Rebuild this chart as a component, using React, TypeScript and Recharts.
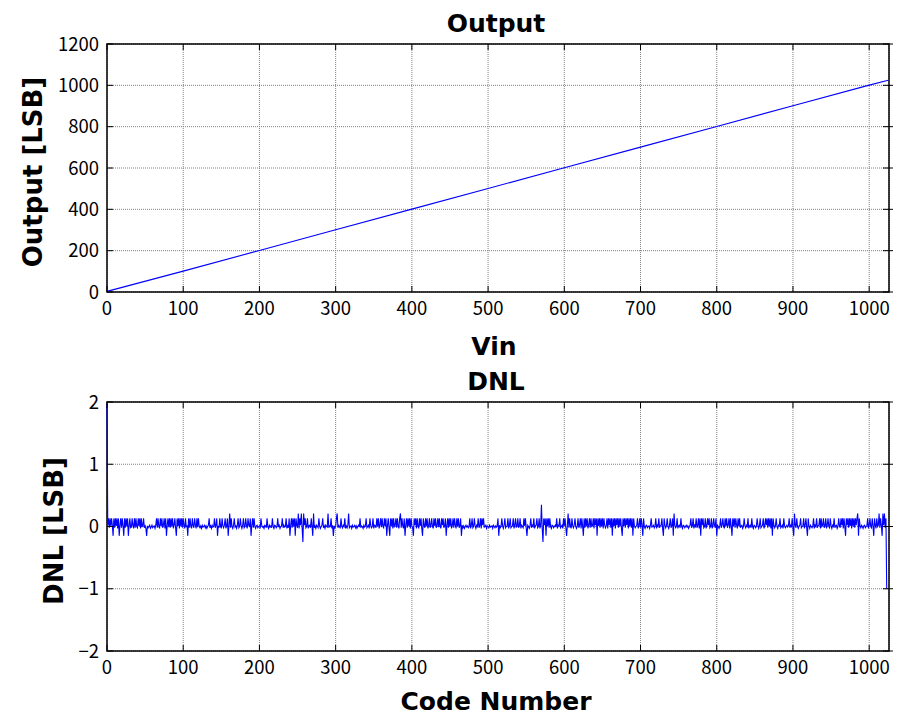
import { LineChart, Line, XAxis, YAxis, CartesianGrid, ReferenceArea } from 'recharts';

// Output vs Vin (ideal-ish staircase, reads as a straight line)
const vinPoints = [0, 100, 200, 300, 400, 500, 600, 700, 800, 900, 1000, 1025];
const outputLsb = [3, 101, 201, 301, 401, 501, 601, 701, 801, 901, 1001, 1025];

// DNL per code in blocks of 128 codes
const dnl0 = [
  1.97, .02, .13, -.02, .13, 0, .13, .02, -.15, .13, -.02, .13, .01, .13, -.03, .13,
  -.15, .02, .13, -.02, .13, .01, -.15, .13, -.02, .13, 0, .13, -.15, .02, .13, -.02,
  -.01, .13, .01, -.03, .13, -.02, .13, 0, -.02, .13, .01, .13, -.03, .13, -.01, .02,
  .13, -.02, .01, -.03, -.15, .01, -.02, 0, .02, -.03, -.01, .02, -.02, 0, .01, -.03,
  .02, .13, -.02, .13, 0, -.03, .13, .01, .13, -.02, .02, .13, -.03, .13, -.15, .02,
  .13, -.01, .13, -.02, .13, 0, .13, -.03, .02, .13, -.02, -.15, .13, .01, .13, -.03,
  .13, 0, .13, -.02, .13, .01, -.03, .13, -.01, .02, -.15, .13, -.02, .13, 0, -.03,
  .13, .01, -.02, .13, .02, -.03, .13, -.01, .13, 0, -.02, .01, -.03, .02, -.01, 0,
];
const dnl128 = [
  .02, -.02, .01, -.03, 0, .02, .13, -.02, .01, -.03, .02, -.01, 0, .13, -.02, .02,
  .13, -.15, .01, -.02, .13, 0, -.03, .13, .01, -.02, .02, .13, -.03, .01, .13, -.15,
  .02, .21, -.02, .13, 0, -.03, .02, .13, -.01, .01, -.03, .02, .13, -.02, 0, .13,
  .01, -.03, .02, .13, -.02, 0, .13, .01, -.03, .13, .02, -.01, .13, -.15, .02, .13,
  -.02, .13, 0, -.03, .01, .02, -.02, 0, .01, -.03, .13, .02, -.01, 0, -.03, .02,
  .01, -.02, .13, 0, -.03, .02, -.01, .01, -.02, .13, 0, -.03, .02, .01, -.02, 0,
  .13, -.01, .02, -.03, 0, .01, .13, -.02, .02, -.01, 0, .13, -.03, .01, -.02, .13,
  -.15, .02, .13, -.02, .13, 0, .13, -.15, .13, .02, -.02, .21, -.03, .13, .02, .21,
];
const dnl256 = [
  -.02, -.25, .21, .02, .13, -.02, 0, .13, -.03, .01, .02, -.02, .13, 0, -.15, .21,
  -.02, .01, -.03, .02, 0, -.02, .13, .01, -.03, 0, .02, .13, -.02, .01, -.03, .02,
  0, -.01, .21, -.02, .01, 0, .13, -.03, .02, -.15, .01, -.02, 0, .13, .21, -.02,
  .02, 0, -.03, .13, .01, -.02, .02, 0, .13, -.03, .01, -.02, .02, .21, -.02, 0,
  .01, -.03, .02, -.01, 0, .02, -.02, .01, -.03, 0, .02, -.01, .13, -.02, .01, 0,
  -.03, .02, -.01, .01, .13, -.02, 0, .02, -.03, .13, .01, -.02, 0, .13, -.03, .02,
  .01, -.02, .13, 0, .13, -.03, .02, .13, -.01, .13, 0, -.02, .13, .01, .13, -.15,
  .02, .13, -.02, -.15, .13, .01, .13, -.03, .13, 0, .02, .13, -.02, .13, .01, -.03,
];
const dnl384 = [
  .13, .21, -.02, .13, .01, -.03, .13, -.15, .02, .13, -.02, .13, 0, .13, -.03, .13,
  .01, -.02, -.15, .13, .02, .13, -.03, .13, 0, -.02, .13, .01, .13, -.03, -.15, .13,
  .02, -.02, .13, 0, .13, -.03, .01, .13, -.02, .02, .13, 0, -.03, .13, .01, .13,
  -.02, .02, .13, -.01, .13, 0, -.03, .13, .02, .13, -.02, .01, .13, -.15, .02, .13,
  -.02, .13, 0, .13, -.03, .01, .13, -.02, .13, .02, -.03, .13, 0, .13, -.02, .01,
  .13, -.15, .02, -.02, .01, -.03, 0, .02, -.01, .01, -.02, 0, .13, -.03, .02, .13,
  -.02, 0, .13, .01, -.03, .02, 0, .13, -.02, .01, .13, -.03, .13, .02, .13, -.01,
  0, .02, -.03, .01, 0, -.02, .02, -.01, 0, .01, -.03, .02, 0, -.02, .01, -.01,
];
const dnl512 = [
  .02, .13, -.15, .02, -.02, 0, .13, .01, -.03, .02, .13, -.02, 0, .01, .13, -.03,
  .02, .13, -.02, 0, .01, .13, -.03, .02, .13, -.01, 0, .13, -.02, .01, .13, -.03,
  .02, 0, -.02, .13, .01, .13, -.02, -.15, .02, 0, -.03, .01, .13, -.02, .02, 0,
  .13, -.03, .01, .02, .13, -.02, 0, .13, -.03, .02, .35, -.03, -.25, .13, .02, .13,
  -.15, .13, .01, .13, -.02, .13, 0, -.03, .02, .01, -.02, 0, .02, -.01, .13, -.03,
  .02, .01, .13, -.02, 0, .02, -.03, .13, .01, .13, -.02, -.15, .02, .21, -.02, .13,
  0, -.03, .13, .01, -.02, .02, .13, 0, -.03, .01, .13, -.02, .02, .13, -.03, .13,
  .01, -.15, .13, -.02, .13, 0, .13, -.03, .02, .13, -.02, .13, 0, .01, .13, -.03,
];
const dnl640 = [
  .13, .02, .13, -.15, .13, .01, .13, -.02, .13, 0, .13, -.03, .13, .02, -.02, .01,
  .13, -.03, .13, .02, .13, -.02, .13, -.15, .13, .01, .13, -.03, .13, .02, .13, -.02,
  .13, 0, .13, -.03, -.15, .13, .01, .13, -.02, .13, .02, .13, -.03, .13, 0, .13,
  -.02, .13, -.15, .13, .01, -.02, 0, .02, .13, -.03, .01, .13, -.02, .13, .02, -.15,
  .13, 0, -.03, .01, .02, -.02, 0, .01, -.03, .02, .13, -.01, 0, .02, -.02, .01,
  .13, -.03, .02, 0, .13, -.02, .01, .02, .13, -.03, -.15, .13, .02, -.02, .01, .13,
  0, -.03, .02, .13, -.02, .01, .13, -.15, .21, .02, -.02, 0, .13, -.03, .01, .02,
  -.02, .13, 0, -.03, .02, .01, -.02, 0, .02, -.01, .01, -.03, 0, .02, .13, -.02,
];
const dnl768 = [
  .01, .13, -.03, .02, 0, .13, -.02, .01, .13, -.03, .13, -.15, .13, .02, .13, -.02,
  0, .13, -.03, .01, .13, .02, .13, -.02, 0, .13, -.03, .01, .13, .02, -.02, .13,
  -.15, .02, 0, -.03, .01, .13, -.02, .02, .13, 0, -.03, .13, .01, .13, -.02, .02,
  .13, -.03, .13, 0, -.15, .13, .01, .13, -.02, .13, .02, -.03, .13, 0, .13, -.02,
  .01, .02, -.03, 0, .13, .01, -.02, .02, 0, .13, -.03, .01, .02, -.02, .13, 0,
  -.03, .02, .01, -.02, 0, .13, .02, -.03, .01, .13, -.02, 0, .02, .13, -.03, .01,
  .13, .02, .13, -.02, .13, 0, .13, -.03, .13, -.15, .13, .02, -.02, .01, .13, 0,
  -.03, .02, .01, .13, -.02, 0, .02, -.03, .13, .01, -.02, 0, .02, -.01, .01, .13,
];
const dnl896 = [
  -.02, .02, 0, .13, -.03, -.15, .21, .02, -.02, .13, 0, -.03, .01, .02, .13, -.02,
  0, .01, .13, -.03, .02, .13, -.02, -.15, .13, .01, -.03, .02, 0, -.02, .01, .13,
  -.03, .02, 0, .13, -.02, .01, .02, .13, -.03, .13, 0, .02, .13, -.02, .01, .13,
  -.03, .02, .13, 0, -.02, .13, .01, -.03, .02, 0, .13, -.02, .01, .02, -.03, 0,
  .13, .01, -.02, .13, .02, .13, -.03, .13, 0, -.15, .13, .02, .13, -.02, .13, .01,
  .13, -.03, .13, 0, .13, -.02, .13, .02, .13, .21, -.15, .13, .01, -.02, .02, 0,
  -.03, .01, .02, -.02, 0, .01, .13, -.03, .02, .13, 0, -.02, .13, .01, -.15, .13,
  .02, -.03, .13, 0, .02, .21, -.02, .13, .01, -.15, .21, .02, .21, -.02, .13, -1,
];

const vinTicks = [0, 100, 200, 300, 400, 500, 600, 700, 800, 900, 1000];
const outputTicks = [0, 200, 400, 600, 800, 1000, 1200];
const codeTicks = [0, 100, 200, 300, 400, 500, 600, 700, 800, 900, 1000];
const dnlTicks = [-2, -1, 0, 1, 2];

const outputData = vinPoints.map((v, i) => ({ vin: v, out: outputLsb[i] }));
const dnlData = [...dnl0, ...dnl128, ...dnl256, ...dnl384, ...dnl512, ...dnl640, ...dnl768, ...dnl896]
  .map((v, i) => ({ code: i, dnl: v }));

const X_MAX = 1026;
const PLOT_LEFT = 107;
const PLOT_RIGHT = 889;
const TICK_FONT = '"Noto Sans CJK JP", "Noto Sans", sans-serif';
const LABEL_FONT = '"DejaVu Sans", sans-serif';
const TICK_LEN = 6;

const fmt = (v: number) => String(v).replace('-', '\u2212');

function makeXTick(plotTop: number, plotBottom: number) {
  return (props: any) => {
    const { x, payload } = props;
    return (
      <g>
        <line x1={x} x2={x} y1={plotBottom} y2={plotBottom - TICK_LEN} stroke="#000" />
        <line x1={x} x2={x} y1={plotTop} y2={plotTop + TICK_LEN} stroke="#000" />
        <text x={x} y={plotBottom + 23} textAnchor="middle" fontFamily={TICK_FONT} fontSize={18.5} fill="#000">
          {fmt(payload.value)}
        </text>
      </g>
    );
  };
}

function makeYTick() {
  return (props: any) => {
    const { y, payload } = props;
    return (
      <g>
        <line x1={PLOT_LEFT} x2={PLOT_LEFT + TICK_LEN} y1={y} y2={y} stroke="#000" />
        <line x1={PLOT_RIGHT - TICK_LEN} x2={PLOT_RIGHT + 4} y1={y} y2={y} stroke="#000" />
        <text x={PLOT_LEFT - 8} y={y} dy="0.36em" textAnchor="end" fontFamily={TICK_FONT} fontSize={18.5} fill="#000">
          {fmt(payload.value)}
        </text>
      </g>
    );
  };
}

function OutputPlot() {
  // plot area: top 44, bottom 292
  return (
    <LineChart width={905} height={360} data={outputData} margin={{ top: 44, right: 16, bottom: 38, left: 47 }}>
      <CartesianGrid stroke="#808080" strokeDasharray="1 1" />
      <XAxis dataKey="vin" type="number" domain={[0, X_MAX]} ticks={vinTicks} interval={0}
        height={30} axisLine={false} tickLine={false} tick={makeXTick(44, 292)} />
      <YAxis type="number" domain={[0, 1200]} ticks={outputTicks} interval={0}
        width={60} axisLine={false} tickLine={false} tick={makeYTick()} />
      <ReferenceArea x1={0} x2={X_MAX} y1={0} y2={1200} fill="none" stroke="#000" strokeWidth={1.5} />
      <Line dataKey="out" stroke="#0000ff" strokeWidth={1.1} dot={false} isAnimationActive={false} />
    </LineChart>
  );
}

function DnlPlot() {
  // plot area: top 42, bottom 291 (in this chart's own coordinates)
  return (
    <LineChart width={905} height={356} data={dnlData} margin={{ top: 42, right: 16, bottom: 35, left: 47 }}>
      <CartesianGrid stroke="#808080" strokeDasharray="1 1" />
      <XAxis dataKey="code" type="number" domain={[0, X_MAX]} ticks={codeTicks} interval={0}
        height={30} axisLine={false} tickLine={false} tick={makeXTick(42, 291)} />
      <YAxis type="number" domain={[-2, 2]} ticks={dnlTicks} interval={0}
        width={60} axisLine={false} tickLine={false} tick={makeYTick()} />
      <ReferenceArea x1={0} x2={X_MAX} y1={-2} y2={2} fill="none" stroke="#000" strokeWidth={1.5} />
      <Line dataKey="dnl" stroke="#0000ff" strokeWidth={1.1} dot={false} isAnimationActive={false} />
    </LineChart>
  );
}

export default function App() {
  return (
    <div style={{ position: 'absolute', left: 0, top: 0, width: 905, height: 716, background: '#fff' }}>
      <div style={{ position: 'absolute', left: 0, top: 0 }}>
        <OutputPlot />
      </div>
      <div style={{ position: 'absolute', left: 0, top: 360 }}>
        <DnlPlot />
      </div>
      <svg width={905} height={716} style={{ position: 'absolute', left: 0, top: 0, pointerEvents: 'none' }}>
        <g fontFamily={LABEL_FONT} fontWeight="bold" fill="#000" textAnchor="middle">
          <text x={496} y={32} fontSize={25}>Output</text>
          <text x={494} y={355} fontSize={25}>Vin</text>
          <text x={496} y={390} fontSize={25}>DNL</text>
          <text x={496} y={710} fontSize={25}>Code Number</text>
          <text transform="translate(41.5,172) rotate(-90)" fontSize={26}>Output [LSB]</text>
          <text transform="translate(63,531) rotate(-90)" fontSize={26}>DNL [LSB]</text>
        </g>
      </svg>
    </div>
  );
}
